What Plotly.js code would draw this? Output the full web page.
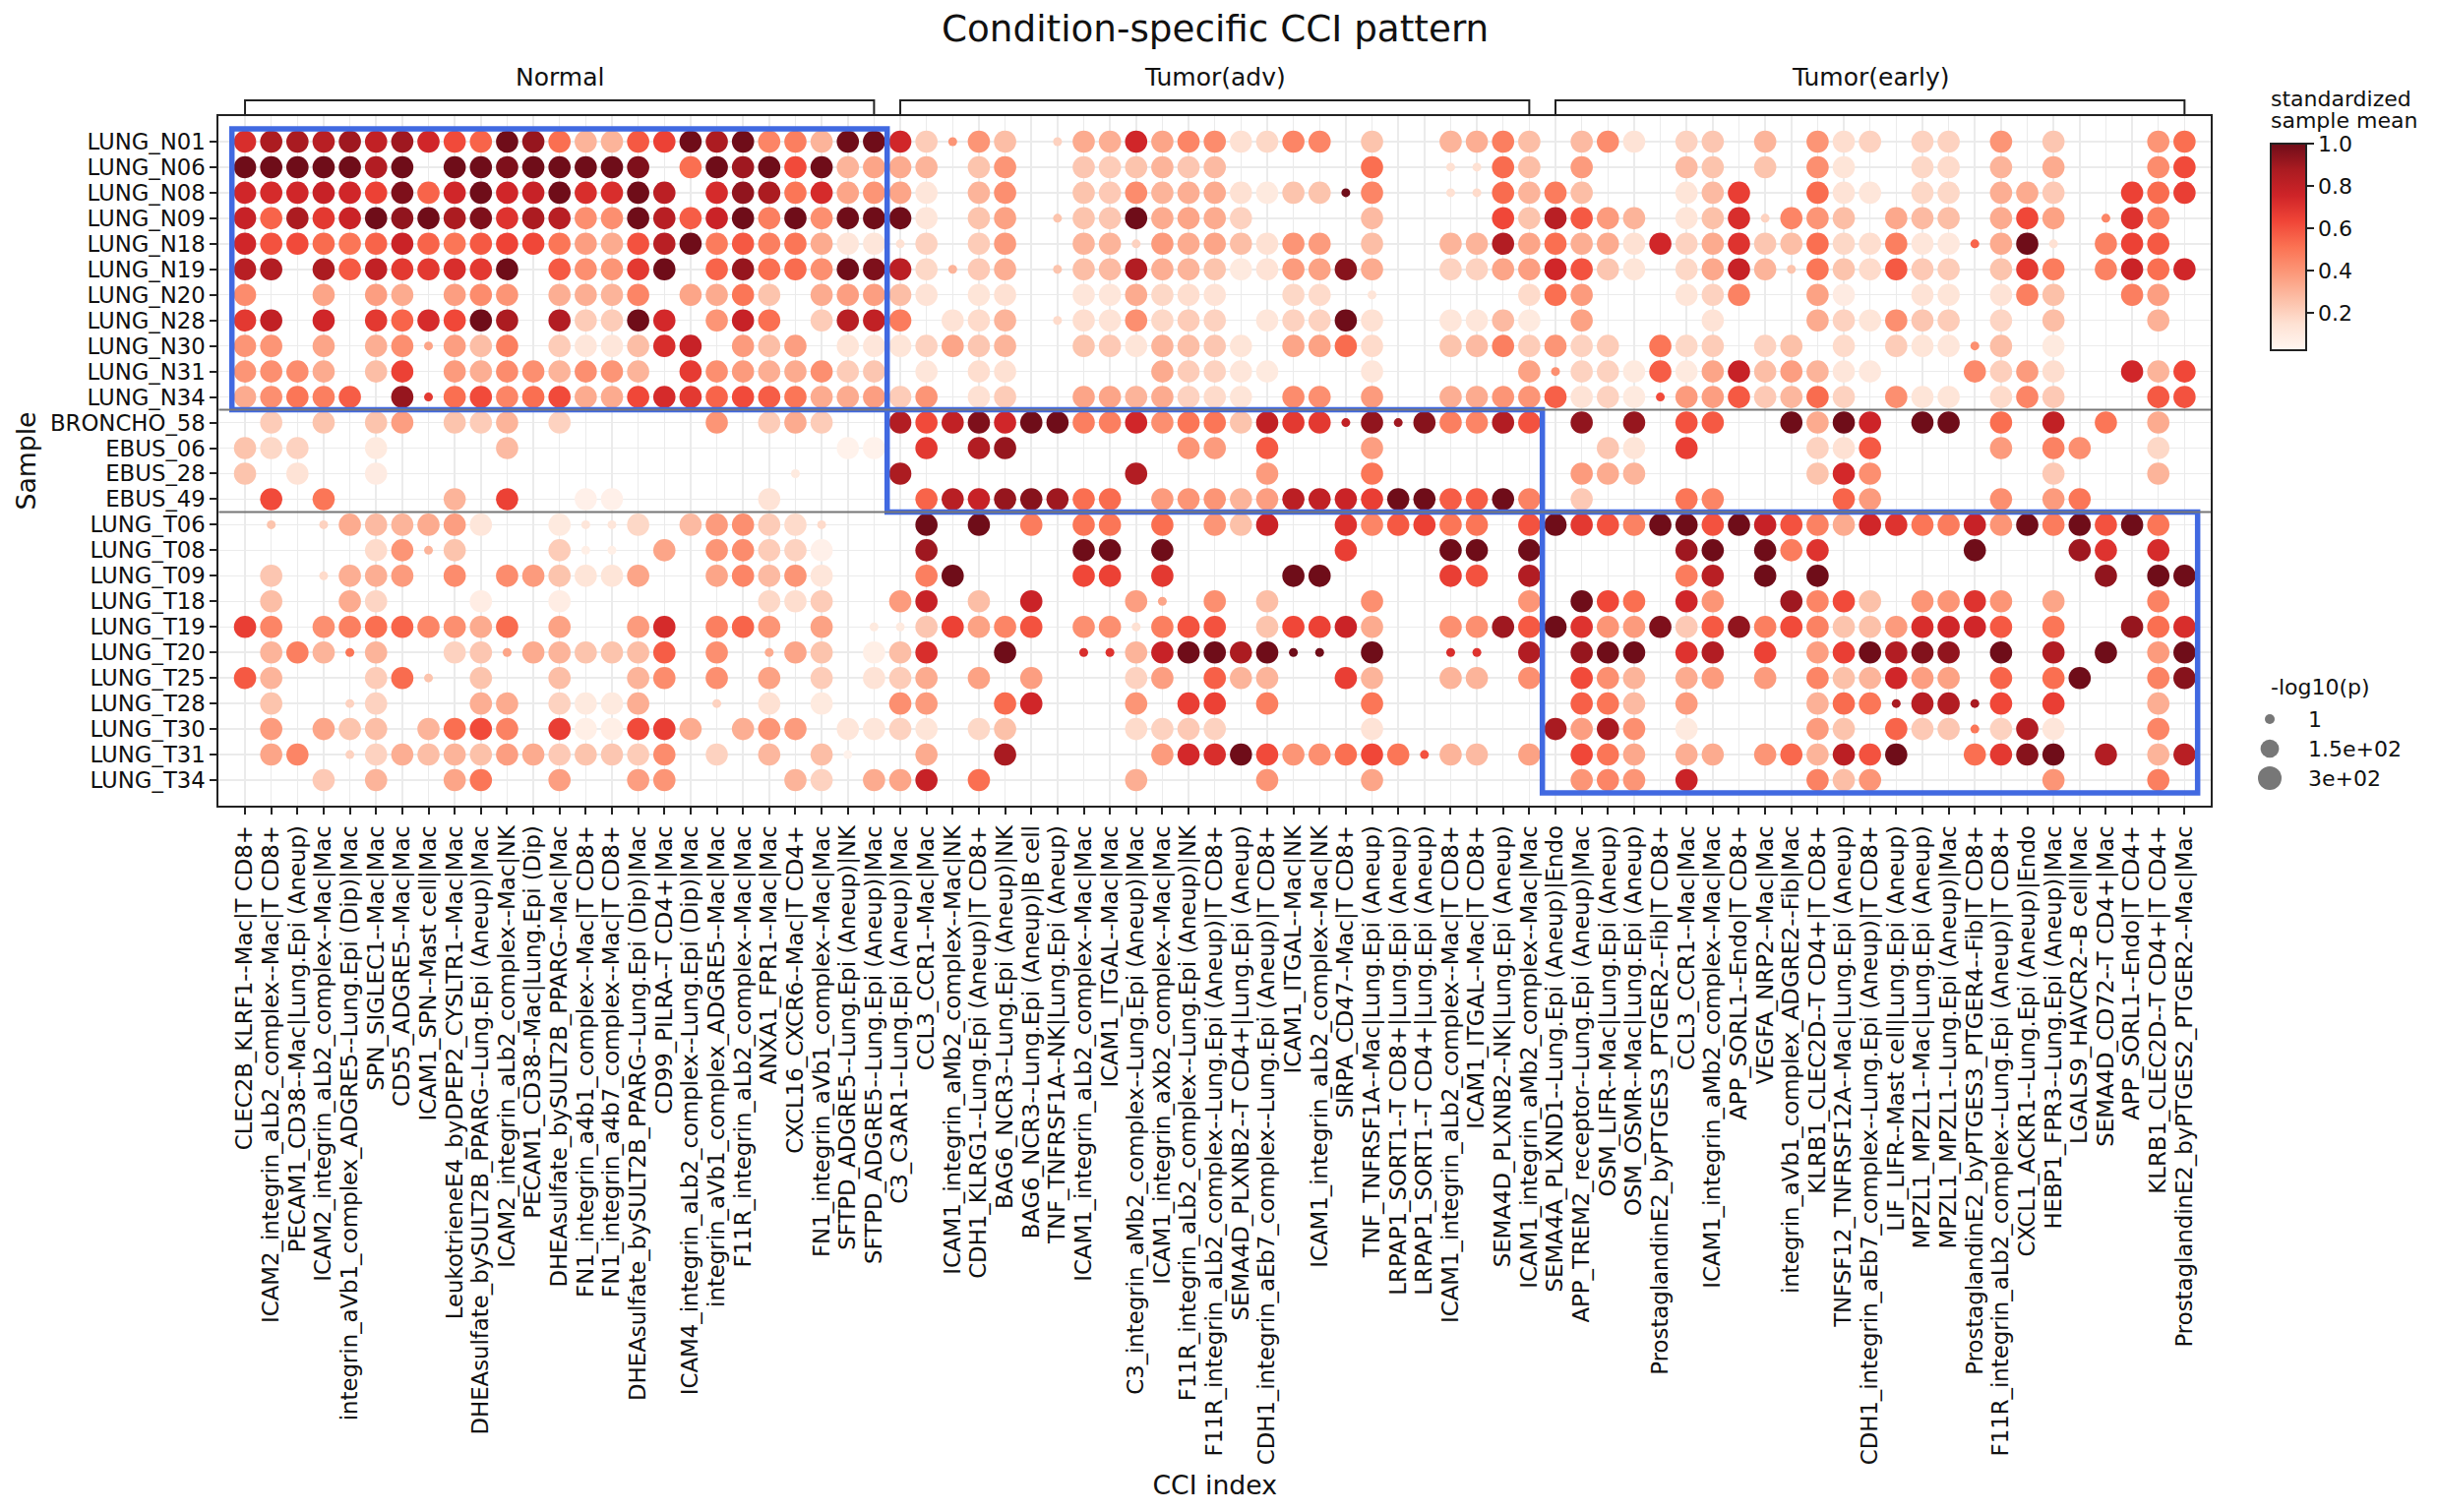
<!DOCTYPE html>
<html><head><meta charset="utf-8">
<script src="https://cdn.plot.ly/plotly-3.0.1.min.js"></script>
<style>html,body{margin:0;padding:0;background:#fff}</style></head>
<body><div id="chart" style="width:2478px;height:1537px"></div>
<script>
const samples = ["LUNG_N01","LUNG_N06","LUNG_N08","LUNG_N09","LUNG_N18","LUNG_N19","LUNG_N20","LUNG_N28","LUNG_N30","LUNG_N31","LUNG_N34","BRONCHO_58","EBUS_06","EBUS_28","EBUS_49","LUNG_T06","LUNG_T08","LUNG_T09","LUNG_T18","LUNG_T19","LUNG_T20","LUNG_T25","LUNG_T28","LUNG_T30","LUNG_T31","LUNG_T34"];
const cciLabels = ["CLEC2B_KLRF1--Mac|T CD8+","ICAM2_integrin_aLb2_complex--Mac|T CD8+","PECAM1_CD38--Mac|Lung.Epi (Aneup)","ICAM2_integrin_aLb2_complex--Mac|Mac","integrin_aVb1_complex_ADGRE5--Lung.Epi (Dip)|Mac","SPN_SIGLEC1--Mac|Mac","CD55_ADGRE5--Mac|Mac","ICAM1_SPN--Mast cell|Mac","LeukotrieneE4_byDPEP2_CYSLTR1--Mac|Mac","DHEAsulfate_bySULT2B_PPARG--Lung.Epi (Aneup)|Mac","ICAM2_integrin_aLb2_complex--Mac|NK","PECAM1_CD38--Mac|Lung.Epi (Dip)","DHEAsulfate_bySULT2B_PPARG--Mac|Mac","FN1_integrin_a4b1_complex--Mac|T CD8+","FN1_integrin_a4b7_complex--Mac|T CD8+","DHEAsulfate_bySULT2B_PPARG--Lung.Epi (Dip)|Mac","CD99_PILRA--T CD4+|Mac","ICAM4_integrin_aLb2_complex--Lung.Epi (Dip)|Mac","integrin_aVb1_complex_ADGRE5--Mac|Mac","F11R_integrin_aLb2_complex--Mac|Mac","ANXA1_FPR1--Mac|Mac","CXCL16_CXCR6--Mac|T CD4+","FN1_integrin_aVb1_complex--Mac|Mac","SFTPD_ADGRE5--Lung.Epi (Aneup)|NK","SFTPD_ADGRE5--Lung.Epi (Aneup)|Mac",
"C3_C3AR1--Lung.Epi (Aneup)|Mac","CCL3_CCR1--Mac|Mac","ICAM1_integrin_aMb2_complex--Mac|NK","CDH1_KLRG1--Lung.Epi (Aneup)|T CD8+","BAG6_NCR3--Lung.Epi (Aneup)|NK","BAG6_NCR3--Lung.Epi (Aneup)|B cell","TNF_TNFRSF1A--NK|Lung.Epi (Aneup)","ICAM1_integrin_aLb2_complex--Mac|Mac","ICAM1_ITGAL--Mac|Mac","C3_integrin_aMb2_complex--Lung.Epi (Aneup)|Mac","ICAM1_integrin_aXb2_complex--Mac|Mac","F11R_integrin_aLb2_complex--Lung.Epi (Aneup)|NK","F11R_integrin_aLb2_complex--Lung.Epi (Aneup)|T CD8+","SEMA4D_PLXNB2--T CD4+|Lung.Epi (Aneup)","CDH1_integrin_aEb7_complex--Lung.Epi (Aneup)|T CD8+","ICAM1_ITGAL--Mac|NK","ICAM1_integrin_aLb2_complex--Mac|NK","SIRPA_CD47--Mac|T CD8+","TNF_TNFRSF1A--Mac|Lung.Epi (Aneup)","LRPAP1_SORT1--T CD8+|Lung.Epi (Aneup)","LRPAP1_SORT1--T CD4+|Lung.Epi (Aneup)","ICAM1_integrin_aLb2_complex--Mac|T CD8+","ICAM1_ITGAL--Mac|T CD8+","SEMA4D_PLXNB2--NK|Lung.Epi (Aneup)","ICAM1_integrin_aMb2_complex--Mac|Mac",
"SEMA4A_PLXND1--Lung.Epi (Aneup)|Endo","APP_TREM2_receptor--Lung.Epi (Aneup)|Mac","OSM_LIFR--Mac|Lung.Epi (Aneup)","OSM_OSMR--Mac|Lung.Epi (Aneup)","ProstaglandinE2_byPTGES3_PTGER2--Fib|T CD8+","CCL3_CCR1--Mac|Mac","ICAM1_integrin_aMb2_complex--Mac|Mac","APP_SORL1--Endo|T CD8+","VEGFA_NRP2--Mac|Mac","integrin_aVb1_complex_ADGRE2--Fib|Mac","KLRB1_CLEC2D--T CD4+|T CD8+","TNFSF12_TNFRSF12A--Mac|Lung.Epi (Aneup)","CDH1_integrin_aEb7_complex--Lung.Epi (Aneup)|T CD8+","LIF_LIFR--Mast cell|Lung.Epi (Aneup)","MPZL1_MPZL1--Mac|Lung.Epi (Aneup)","MPZL1_MPZL1--Lung.Epi (Aneup)|Mac","ProstaglandinE2_byPTGES3_PTGER4--Fib|T CD8+","F11R_integrin_aLb2_complex--Lung.Epi (Aneup)|T CD8+","CXCL1_ACKR1--Lung.Epi (Aneup)|Endo","HEBP1_FPR3--Lung.Epi (Aneup)|Mac","LGALS9_HAVCR2--B cell|Mac","SEMA4D_CD72--T CD4+|Mac","APP_SORL1--Endo|T CD4+","KLRB1_CLEC2D--T CD4+|T CD4+","ProstaglandinE2_byPTGES2_PTGER2--Mac|Mac"];

// standardized sample mean per sample, keyed by CCI column index (missing = not drawn)
const LUNG_N01 = {0:.72,1:.87,2:.88,3:.83,4:.9,5:.8,6:.9,7:.75,8:.62,9:.55,10:1,11:.92,12:.52,13:.3,14:.3,15:.58,16:.65,17:1,18:.87,19:1,20:.45,21:.47,22:.3,23:1,24:1,25:.75,26:.22,27:.4,28:.4,29:.27,31:.2,32:.33,33:.32,34:.75,35:.35,36:.45,37:.43,38:.15,39:.18,40:.45,41:.45,43:.25,46:.3,47:.32,48:.47,49:.27,51:.28,52:.43,53:.14,55:.2,56:.24,58:.3,60:.4,61:.16,62:.2,64:.2,65:.2,67:.4,69:.24,73:.4,74:.52};
const LUNG_N06 = {0:1,1:1,2:1,3:1,4:1,5:.85,6:1,8:1,9:1,10:.97,11:1,12:1,13:1,14:1,15:.97,17:.52,18:1,19:.9,20:1,21:.62,22:1,23:.3,24:.35,25:.33,26:.3,28:.25,29:.4,32:.24,33:.22,34:.25,35:.3,36:.24,37:.28,43:.52,46:.15,47:.15,48:.53,49:.27,51:.38,55:.28,56:.25,58:.25,60:.42,61:.13,64:.18,65:.17,67:.3,69:.33,73:.43,74:.62};
const LUNG_N08 = {0:.75,1:.73,2:.75,3:.78,4:.75,5:.65,6:.97,7:.55,8:.75,9:1,10:.75,11:.78,12:1,13:.72,14:.72,15:1,16:.82,18:.73,19:.93,20:.87,21:.5,22:.73,23:.35,24:.4,25:.35,26:.12,28:.3,29:.42,32:.25,33:.23,34:.43,35:.3,36:.32,37:.33,38:.15,39:.1,40:.25,41:.25,42:1,43:.45,46:.15,47:.17,48:.53,49:.3,50:.48,51:.27,55:.13,56:.28,57:.66,60:.53,61:.14,62:.12,64:.18,65:.18,67:.32,68:.33,69:.23,72:.65,73:.53,74:.66};
const LUNG_N09 = {0:.78,1:.55,2:.87,3:.68,4:.77,5:1,6:.93,7:1,8:.87,9:.97,10:.7,11:.87,12:.83,13:.42,14:.42,15:1,16:.83,17:.57,18:.77,19:1,20:.47,21:1,22:.42,23:1,24:1,25:1,26:.12,28:.25,29:.36,31:.25,32:.25,33:.24,34:1,35:.33,36:.35,37:.33,38:.2,43:.28,48:.63,49:.25,50:.83,51:.58,52:.38,53:.3,55:.13,56:.26,57:.72,58:.2,59:.45,60:.4,61:.27,63:.34,64:.28,65:.27,67:.33,68:.63,69:.36,71:.45,72:.7,73:.47};
const LUNG_N18 = {0:.75,1:.6,2:.62,3:.53,4:.5,5:.55,6:.77,7:.55,8:.5,9:.58,10:.64,11:.63,12:.5,13:.37,14:.33,15:.6,16:.83,17:1,18:.48,19:.58,20:.47,21:.5,22:.33,23:.12,24:.12,25:.15,26:.2,28:.22,29:.38,32:.3,33:.3,34:.2,35:.38,36:.33,37:.35,38:.27,39:.15,40:.4,41:.38,43:.27,46:.3,47:.3,48:.85,49:.35,50:.52,51:.32,52:.33,53:.15,54:.75,55:.2,56:.33,57:.7,58:.24,59:.27,60:.52,61:.18,62:.16,63:.47,64:.12,65:.11,66:.55,67:.33,68:1,69:.15,71:.46,72:.65,73:.58};
const LUNG_N19 = {0:.83,1:.85,3:.87,4:.58,5:.8,6:.68,7:.68,8:.72,9:.68,10:1,12:.58,13:.42,14:.4,15:.68,16:1,18:.55,19:.92,20:.52,21:.53,22:.42,23:1,24:.97,25:.82,26:.18,27:.3,28:.23,29:.32,31:.25,32:.27,33:.28,34:.85,35:.32,36:.3,37:.25,38:.1,39:.14,40:.38,41:.36,42:.95,43:.33,46:.2,47:.2,48:.35,49:.37,50:.75,51:.6,52:.24,53:.13,55:.18,56:.34,57:.78,58:.3,59:.25,60:.5,61:.25,62:.17,63:.58,64:.23,65:.22,67:.25,68:.68,69:.48,71:.46,72:.77,73:.52,74:.75};
const LUNG_N20 = {0:.43,3:.35,5:.37,6:.33,8:.37,9:.43,10:.4,12:.32,13:.32,14:.3,15:.45,17:.35,18:.33,19:.5,20:.25,22:.33,23:.37,24:.37,25:.27,26:.14,28:.13,29:.15,32:.12,33:.12,34:.33,35:.18,36:.16,37:.14,40:.18,41:.17,43:.13,49:.17,50:.52,51:.38,55:.13,56:.2,57:.46,60:.36,61:.09,64:.14,65:.13,67:.14,68:.47,69:.26,72:.47,73:.37};
const LUNG_N28 = {0:.68,1:.8,3:.75,5:.68,6:.55,7:.73,8:.63,9:1,10:.87,12:.85,13:.22,14:.22,15:1,16:.74,18:.4,19:.78,20:.52,22:.22,23:.83,24:.8,25:.48,27:.14,28:.17,29:.3,31:.17,32:.16,33:.14,34:.42,35:.18,36:.22,37:.2,39:.12,40:.2,41:.2,42:1,43:.15,46:.12,47:.12,48:.28,49:.1,51:.36,56:.14,60:.33,61:.2,62:.13,63:.42,64:.24,65:.22,67:.19,69:.27,73:.31};
const LUNG_N30 = {0:.4,1:.4,3:.35,5:.32,6:.42,7:.35,8:.37,9:.27,10:.47,12:.22,13:.12,14:.12,15:.27,16:.72,17:.78,19:.38,20:.27,21:.37,23:.13,24:.12,25:.13,26:.2,27:.35,28:.24,29:.3,32:.25,33:.23,34:.13,35:.3,36:.27,37:.24,38:.13,40:.35,41:.36,42:.53,43:.17,46:.25,47:.28,48:.47,49:.22,50:.4,51:.2,52:.22,54:.5,55:.18,56:.22,58:.2,59:.26,61:.17,63:.22,64:.13,65:.12,66:.42,67:.27,69:.1};
const LUNG_N31 = {0:.4,1:.42,2:.43,3:.33,5:.27,6:.65,8:.38,9:.32,10:.43,11:.42,12:.3,13:.42,14:.4,15:.3,17:.67,18:.42,19:.38,20:.32,21:.33,22:.42,23:.22,24:.24,26:.12,28:.16,29:.15,35:.33,36:.22,37:.2,38:.12,39:.1,43:.12,49:.36,50:.42,51:.2,52:.2,53:.1,54:.57,55:.1,56:.35,57:.78,58:.27,59:.37,60:.3,61:.12,62:.11,66:.44,67:.21,68:.38,69:.16,72:.75,73:.3,74:.63};
const LUNG_N34 = {0:.33,1:.42,2:.5,3:.47,4:.57,6:.92,7:.68,8:.52,9:.62,10:.45,11:.52,12:.62,13:.33,14:.33,15:.63,16:.73,17:.68,18:.55,19:.62,20:.57,21:.5,22:.33,23:.33,24:.37,25:.22,26:.4,28:.15,29:.22,32:.35,33:.35,34:.3,35:.33,36:.2,37:.17,38:.13,40:.43,41:.42,43:.38,46:.32,47:.33,48:.4,49:.4,50:.56,51:.14,52:.2,53:.1,54:.62,55:.38,56:.37,57:.58,58:.23,59:.29,60:.53,61:.2,63:.42,64:.13,65:.13,67:.17,68:.45,69:.23,73:.58,74:.6};
const BRONCHO_58 = {1:.22,3:.25,5:.25,6:.37,8:.25,9:.22,10:.3,12:.2,18:.4,20:.22,21:.33,22:.22,25:.85,26:.62,27:.8,28:.97,29:.75,30:1,31:1,32:.47,33:.47,34:.75,35:.42,36:.5,37:.5,38:.25,39:.8,40:.68,41:.68,42:.8,43:.93,44:.9,45:.95,46:.47,47:.45,48:.85,49:.6,51:.93,53:.92,55:.6,56:.58,59:1,60:.33,61:1,62:.76,64:1,65:1,67:.52,69:.8,71:.5,73:.33};
const EBUS_06 = {0:.25,1:.18,2:.2,5:.1,10:.28,23:.05,24:.05,26:.68,28:.85,29:.92,36:.4,37:.38,39:.58,43:.37,52:.24,53:.13,55:.66,60:.2,61:.15,62:.58,67:.38,69:.46,70:.42,73:.18};
const EBUS_28 = {0:.25,2:.14,5:.09,21:.1,25:.87,34:.85,39:.38,43:.5,51:.38,52:.33,53:.3,60:.25,61:.74,62:.42,69:.23,73:.3};
const EBUS_49 = {1:.62,3:.5,8:.3,10:.65,13:.06,14:.06,20:.14,26:.55,27:.83,28:.78,29:.92,30:.95,31:.9,32:.52,33:.53,35:.38,36:.4,37:.4,38:.3,39:.37,40:.82,41:.8,42:.77,43:.66,44:1,45:1,46:.57,47:.57,48:1,49:.46,51:.23,55:.5,56:.45,61:.55,62:.38,67:.42,69:.38,70:.5};
const LUNG_T06 = {1:.25,3:.2,4:.33,5:.28,6:.3,7:.33,8:.37,9:.12,12:.1,13:.12,14:.12,15:.18,17:.28,18:.38,19:.42,20:.22,21:.17,22:.17,26:1,28:1,30:.48,32:.5,33:.5,35:.52,37:.4,38:.26,39:.77,42:.7,43:.45,44:.58,45:.65,46:.5,47:.5,49:.6,50:1,51:.68,52:.6,53:.46,54:1,55:1,56:.6,57:1,58:.78,59:.6,60:.46,61:.33,62:.75,63:.7,64:.5,65:.48,66:.78,67:.4,68:1,69:.48,70:1,71:.6,72:1,73:.5};
const LUNG_T08 = {5:.17,6:.4,7:.3,8:.25,12:.22,13:.07,14:.07,16:.35,18:.4,19:.43,20:.22,21:.2,22:.06,26:.9,32:1,33:1,35:1,42:.66,46:1,47:1,49:1,55:.9,56:1,58:1,59:.48,60:.7,66:1,70:.9,71:.7,73:.73};
const LUNG_T09 = {1:.24,3:.17,4:.32,5:.32,6:.38,8:.43,10:.43,11:.38,12:.25,13:.13,14:.13,15:.35,18:.35,19:.45,20:.28,21:.4,22:.12,26:.47,27:1,32:.63,33:.65,35:.68,40:1,41:1,46:.66,47:.6,49:.85,55:.48,56:.83,58:1,60:1,71:.93,73:1,74:1};
const LUNG_T18 = {1:.27,4:.33,5:.19,9:.08,12:.08,20:.18,21:.16,22:.22,25:.38,26:.78,28:.27,30:.77,34:.37,35:.35,37:.42,39:.27,43:.42,49:.4,51:1,52:.63,53:.52,55:.75,56:.4,59:.9,60:.45,61:.62,62:.26,64:.4,65:.4,66:.7,67:.4,69:.35,73:.46};
const LUNG_T19 = {0:.66,1:.45,3:.42,4:.47,5:.52,6:.55,7:.45,8:.42,9:.33,10:.53,12:.36,15:.38,16:.73,18:.47,19:.55,20:.4,22:.36,24:.1,25:.1,26:.24,27:.65,28:.36,29:.45,30:.6,32:.42,33:.42,34:.15,35:.47,36:.6,37:.6,39:.25,40:.63,41:.65,42:.77,43:.33,46:.42,47:.42,48:.9,49:.58,50:1,51:.7,52:.4,53:.38,54:.97,55:.23,56:.58,57:.93,58:.47,59:.62,60:.46,61:.25,62:.26,63:.38,64:.72,65:.75,66:.75,67:.58,69:.5,72:.92,73:.52,74:.72};
const LUNG_T20 = {1:.3,2:.47,3:.3,4:.5,5:.3,8:.2,9:.24,10:.35,11:.33,12:.3,13:.25,14:.25,15:.27,16:.57,18:.42,20:.33,21:.35,22:.25,24:.07,25:.27,26:.72,29:1,32:.72,33:.7,34:.3,35:.78,36:1,37:1,38:.87,39:1,40:1,41:1,43:1,46:.72,47:.7,49:.85,51:.92,52:1,53:1,55:.7,56:.85,58:.65,60:.37,61:.66,62:1,63:.85,64:.96,65:.93,67:1,69:.85,71:1,73:.38,74:1};
const LUNG_T25 = {0:.58,1:.3,5:.22,6:.53,7:.25,9:.25,12:.27,15:.3,16:.43,18:.42,20:.36,22:.22,24:.14,25:.22,26:.33,28:.36,30:.37,34:.2,35:.37,37:.56,38:.3,39:.3,42:.66,43:.3,46:.3,47:.3,49:.42,51:.62,52:.42,53:.3,55:.33,56:.38,58:.38,60:.45,61:.26,62:.3,63:.75,64:.37,65:.36,67:.55,69:.52,70:1,73:.46,74:.95};
const LUNG_T28 = {1:.25,4:.2,5:.2,9:.32,10:.33,12:.2,13:.1,14:.1,15:.32,18:.2,20:.15,22:.1,25:.42,26:.38,29:.53,30:.75,34:.4,36:.66,37:.65,39:.47,43:.5,51:.56,52:.5,53:.28,55:.38,60:.31,61:.53,62:.5,63:.88,64:.83,65:.85,66:.88,67:.63,69:.66,73:.32};
const LUNG_T30 = {1:.38,3:.35,4:.25,5:.27,7:.3,8:.52,9:.62,10:.46,12:.66,13:.07,14:.07,15:.62,16:.66,17:.33,19:.32,20:.4,21:.38,23:.12,24:.12,25:.2,26:.13,28:.18,29:.26,34:.17,35:.2,36:.23,37:.2,43:.14,50:.88,51:.37,52:.88,53:.42,55:.1,60:.38,61:.25,63:.55,64:.23,65:.24,66:.5,67:.2,68:.85,69:.12,73:.45};
const LUNG_T31 = {1:.35,2:.45,4:.2,5:.2,6:.32,7:.27,8:.3,9:.26,10:.37,11:.33,12:.23,13:.25,14:.24,15:.22,16:.43,18:.2,20:.29,22:.27,23:.05,26:.33,29:.88,35:.38,36:.74,37:.72,38:1,39:.62,40:.4,41:.42,42:.52,43:.63,44:.5,45:.6,46:.3,47:.28,49:.36,51:.63,52:.5,53:.34,55:.32,56:.33,58:.4,59:.54,60:.3,61:.82,62:.6,63:1,66:.52,67:.68,68:.95,69:1,71:.85,73:.3,74:.83};
const LUNG_T34 = {3:.23,5:.3,8:.35,9:.5,12:.37,15:.37,16:.4,21:.3,22:.2,24:.33,25:.35,26:.78,28:.52,34:.32,39:.4,43:.35,51:.4,52:.45,53:.4,55:.77,60:.46,61:.27,62:.4,69:.4,73:.47};
const meanBySample = [LUNG_N01,LUNG_N06,LUNG_N08,LUNG_N09,LUNG_N18,LUNG_N19,LUNG_N20,LUNG_N28,LUNG_N30,LUNG_N31,LUNG_N34,BRONCHO_58,EBUS_06,EBUS_28,EBUS_49,LUNG_T06,LUNG_T08,LUNG_T09,LUNG_T18,LUNG_T19,LUNG_T20,LUNG_T25,LUNG_T28,LUNG_T30,LUNG_T31,LUNG_T34];

// columns where -log10(p) is at the low end (1); every other dot is at the top end (3e+02)
const lowSignificance = {LUNG_N01:[27,31],LUNG_N06:[46,47],LUNG_N08:[42,46,47],LUNG_N09:[31,58,71],LUNG_N18:[25,34,66,69],LUNG_N19:[27,31,59],LUNG_N20:[43],LUNG_N28:[31],LUNG_N30:[7,66],LUNG_N31:[50],LUNG_N34:[7,54],BRONCHO_58:[42,44],EBUS_28:[21],LUNG_T06:[1,3,13,14,22],LUNG_T08:[7,13,14],LUNG_T09:[3],LUNG_T18:[35],LUNG_T19:[24,25,34],LUNG_T20:[4,10,20,32,33,40,41,46,47],LUNG_T25:[7],LUNG_T28:[4,18,63,66],LUNG_T30:[66],LUNG_T31:[4,23,45]};

const conditionGroups = [{name:"Normal",first:0,last:24},{name:"Tumor(adv)",first:25,last:49},{name:"Tumor(early)",first:50,last:74}];
const highlightBoxes = [{first:0,last:24,top:0,bottom:10},{first:25,last:49,top:11,bottom:14},{first:50,last:74,top:15,bottom:25}];
const sampleDividers = [10.5,14.5];
const sizeLegendValues = [1,150,300];
const sizeLegendLabels = ["1","1.5e+02","3e+02"];
const colorTicks = [0.2,0.4,0.6,0.8,1.0];

const W=2478,H=1537, L=222.4,R=2247,T=118,B=819;
const FONT='"DejaVu Sans", sans-serif', INK='#222222';
const TICKFS=22.8, LABELFS=26.7, GROUPFS=25, KEYFS=22;
function px(x){return x/W} function py(y){return 1-y/H}
function dia(p){return p<=1?9:(p<=150?18.7:22.6)}
function legendDia(p){return p<=1?10:(p<=150?18.7:24)}
const redsOverWhite=[[0,'#fff6f1'],[.125,'#fee2d4'],[.25,'#fcbea6'],[.375,'#fc9879'],[.5,'#fb7253'],[.625,'#f04537'],[.75,'#ce2428'],[.875,'#aa1b21'],[1,'#6f0d19']];

const xs=[],ys=[],cs=[],ss=[];
samples.forEach((s,r)=>{
  const row=meanBySample[r], low=lowSignificance[s]||[];
  Object.keys(row).forEach(k=>{const c=+k;xs.push(c);ys.push(r);cs.push(row[k]);ss.push(dia(low.includes(c)?1:300));});
});
const dots={type:'scatter',mode:'markers',x:xs,y:ys,hoverinfo:'skip',showlegend:false,
 marker:{size:ss,sizemode:'diameter',color:cs,cmin:0.025,cmax:1,colorscale:redsOverWhite,line:{width:0},opacity:1,
  colorbar:{xref:'container',yref:'container',x:2307.5/W,xanchor:'left',y:1-146/H,yanchor:'top',lenmode:'pixels',len:210,thicknessmode:'pixels',thickness:36,
   tickmode:'array',tickvals:colorTicks,ticktext:colorTicks.map(v=>v.toFixed(1)),ticks:'outside',ticklen:7,tickwidth:2,tickcolor:INK,
   outlinecolor:INK,outlinewidth:2,borderwidth:0,xpad:0,ypad:0,tickfont:{family:FONT,size:KEYFS,color:'#111'}}}};
const sizeKey={type:'scatter',mode:'markers',xaxis:'x2',yaxis:'y2',x:sizeLegendValues.map(()=>0),y:sizeLegendValues.map((v,i)=>i),hoverinfo:'skip',showlegend:false,
 marker:{size:sizeLegendValues.map(legendDia),color:'#777777',opacity:1,line:{width:0}}};

const shapes=[];
conditionGroups.forEach(g=>{shapes.push({type:'path',xref:'x',yref:'paper',path:`M ${g.first},${py(T)} L ${g.first},${py(102)} L ${g.last},${py(102)} L ${g.last},${py(T)}`,line:{color:INK,width:2},layer:'above'});});
highlightBoxes.forEach(b=>shapes.push({type:'rect',xref:'x',yref:'y',x0:b.first-.5,x1:b.last+.5,y0:b.top-.5,y1:b.bottom+.5,line:{color:'#4169e1',width:5.5},fillcolor:'rgba(0,0,0,0)',layer:'above'}));
sampleDividers.forEach(y=>shapes.push({type:'line',xref:'paper',yref:'y',x0:px(L),x1:px(R),y0:y,y1:y,line:{color:'#777777',width:2},layer:'above'}));

const annotations=[
 {xref:'paper',yref:'paper',x:px(1235),y:py(29.5),text:'Condition-specific CCI pattern',showarrow:false,font:{family:FONT,size:37.3,color:'#111'},xanchor:'center',yanchor:'middle'},
 {xref:'paper',yref:'paper',x:px(2306),y:py(100),text:'standardized',showarrow:false,font:{family:FONT,size:KEYFS,color:'#111'},xanchor:'left',yanchor:'middle'},
 {xref:'paper',yref:'paper',x:px(2306),y:py(123),text:'sample mean',showarrow:false,font:{family:FONT,size:KEYFS,color:'#111'},xanchor:'left',yanchor:'middle'},
 {xref:'paper',yref:'paper',x:px(2306),y:py(698),text:'-log10(p)',showarrow:false,font:{family:FONT,size:KEYFS,color:'#111'},xanchor:'left',yanchor:'middle'}];
conditionGroups.forEach(g=>annotations.push({xref:'x',yref:'paper',x:(g.first+g.last)/2,y:py(78),text:g.name,showarrow:false,font:{family:FONT,size:GROUPFS,color:'#111'},xanchor:'center',yanchor:'middle'}));
sizeLegendLabels.forEach((t,i)=>annotations.push({xref:'paper',yref:'y2',x:px(2344),y:i,text:t,showarrow:false,font:{family:FONT,size:KEYFS,color:'#111'},xanchor:'left',yanchor:'middle'}));

const layout={width:W,height:H,margin:{l:0,r:0,t:0,b:0,autoexpand:false},paper_bgcolor:'#fff',plot_bgcolor:'#fff',showlegend:false,font:{family:FONT,color:'#111'},
 xaxis:{domain:[px(L),px(R)],range:[-1,75],tickmode:'array',tickvals:cciLabels.map((_,i)=>i),ticktext:cciLabels,tickangle:-90,tickfont:{family:FONT,size:TICKFS,color:'#111'},ticklabelstandoff:2,
  ticks:'outside',ticklen:7,tickwidth:2,tickcolor:INK,showgrid:true,gridcolor:'#ebebeb',gridwidth:1.5,zeroline:false,showline:true,linecolor:INK,linewidth:2,mirror:true,automargin:false,
  title:{text:'CCI index',font:{family:FONT,size:LABELFS,color:'#111'},standoff:12}},
 yaxis:{domain:[py(B),py(T)],range:[26,-1],tickmode:'array',tickvals:samples.map((_,i)=>i),ticktext:samples,tickfont:{family:FONT,size:TICKFS,color:'#111'},
  ticks:'outside',ticklen:7,tickwidth:2,tickcolor:INK,showgrid:true,gridcolor:'#ebebeb',gridwidth:1.5,zeroline:false,showline:true,linecolor:INK,linewidth:2,mirror:true,automargin:false,
  title:{text:'Sample',font:{family:FONT,size:LABELFS,color:'#111'},standoff:7}},
 xaxis2:{domain:[px(2287),px(2327)],range:[-1,1],visible:false,fixedrange:true},
 yaxis2:{domain:[py(806),py(716)],range:[2.5,-.5],visible:false,fixedrange:true},
 shapes,annotations};
Plotly.newPlot('chart',[dots,sizeKey],layout,{displayModeBar:false,staticPlot:true});
</script></body></html>
